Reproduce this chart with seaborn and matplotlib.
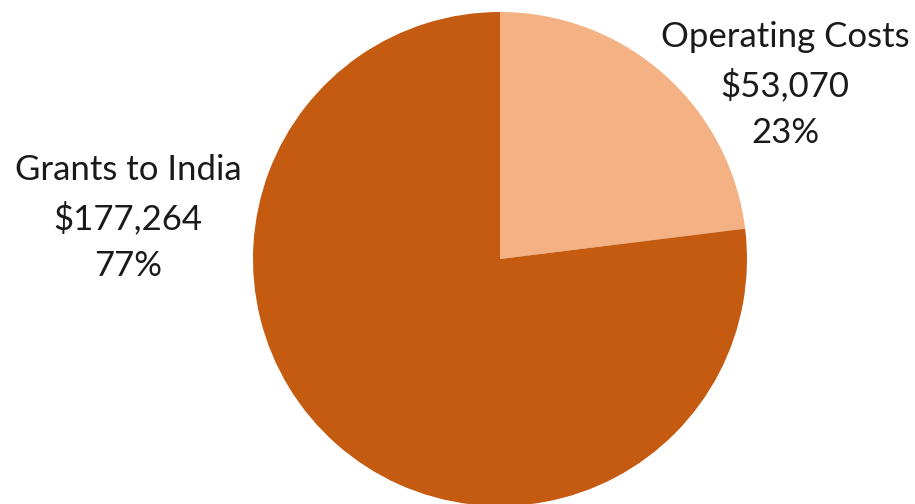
import matplotlib
matplotlib.use("Agg")
import matplotlib.pyplot as plt
import seaborn as sns

# data
categories = ["Operating Costs", "Grants to India"]
amounts = [53070, 177264]
colors = ["#F4B183", "#C55A11"]

sns.set_theme(style="white")
plt.rcParams["font.family"] = ["Lato", "DejaVu Sans"]

W, H = 915, 504
R = 247.0            # pie radius in pixels
cx, cy = 500.0, 259.0  # pie centre, pixels from top-left

fig = plt.figure(figsize=(W / 100, H / 100), dpi=100)
ax = fig.add_axes([0, 0, 1, 1])
ax.pie(
    amounts,
    colors=colors,
    startangle=90,
    counterclock=False,
    radius=1.0,
    wedgeprops={"linewidth": 0},
)
ax.set_xlim(-cx / R, (W - cx) / R)
ax.set_ylim(-(H - cy) / R, cy / R)
ax.set_aspect("equal")
ax.axis("off")

total = sum(amounts)
label_pos = {"Operating Costs": (785, 85), "Grants to India": (128, 218)}
for cat, amt in zip(categories, amounts):
    px, py = label_pos[cat]
    txt = f"{cat}\n${amt:,}\n{amt / total:.0%}"
    ax.text(
        (px - cx) / R, (cy - py) / R, txt,
        ha="center", va="center", fontsize=25, color="#1a1a1a",
        linespacing=1.56,
    )

fig.savefig("out.png", dpi=100)
plt.close(fig)
